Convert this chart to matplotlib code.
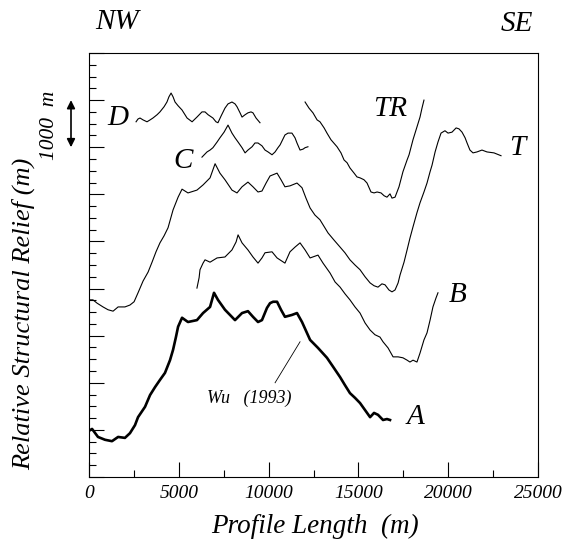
import matplotlib
matplotlib.use('Agg')
import matplotlib.pyplot as plt
from matplotlib.ticker import MultipleLocator

# profile length (m) / relative structural relief (m)
# A : Wu (1993)
A_x = [0, 170, 500, 890, 1280, 1620, 2000, 2280, 2560, 2730, 3120, 3400, 3680, 3950, 4230,
       4510, 4680, 4840, 4960, 5180, 5510, 6010, 6350, 6740, 6960, 7180, 7570, 7850, 8130,
       8520, 8850, 9130, 9410, 9630, 9910, 10080, 10250, 10470, 10690, 10910, 11300, 11580,
       11860, 12310, 12750, 13250, 13590, 13980, 14250, 14530, 14810, 15090, 15370, 15650,
       15870, 16090, 16370, 16590, 16760]
A_y = [980, 1020, 850, 790, 760, 850, 830, 930, 1100, 1270, 1490, 1740, 1910, 2060, 2210,
       2480, 2700, 2970, 3190, 3380, 3290, 3330, 3480, 3610, 3910, 3760, 3550, 3440, 3330,
       3480, 3520, 3400, 3290, 3330, 3590, 3690, 3720, 3720, 3550, 3400, 3440, 3480,
       3290, 2910, 2740, 2530, 2340, 2120, 1950, 1780, 1680, 1570, 1420, 1270,
       1360, 1320, 1210, 1230, 1210]

B_x = [6010, 6130, 6180, 6350, 6460, 6740, 7130, 7570, 7960, 8190, 8300, 8520, 8850, 9130,
       9410, 9630, 9800, 10190, 10470, 10910, 11190, 11470, 11750, 12030, 12310, 12750, 13030,
       13420, 13700, 13980, 14250, 14530, 14810, 15090, 15370, 15650, 15920, 16200, 16370,
       16650, 16930, 17210, 17480, 17710, 17870, 18040, 18260, 18430, 18650, 18820, 18990,
       19150, 19320, 19430]
B_y = [4010, 4230, 4400, 4540, 4610, 4560, 4650, 4670, 4820, 4990, 5140, 4970, 4820, 4670,
       4540, 4650, 4760, 4780, 4650, 4540, 4780, 4880, 4970, 4820, 4650, 4710, 4540,
       4330, 4140, 4030, 3890, 3760, 3610, 3480, 3270, 3120, 3020, 2970, 2870,
       2740, 2550, 2550, 2530, 2480, 2440, 2480, 2440, 2630, 2910, 3060, 3330,
       3610, 3800, 3910]

T_x = [0, 220, 450, 780, 1060, 1340, 1620, 2000, 2280, 2510, 2730, 3010, 3290, 3510, 3730,
       3950, 4180, 4400, 4680, 4960, 5180, 5510, 6010, 6350, 6740, 7020, 7290, 7570, 7960,
       8240, 8520, 8850, 9130, 9410, 9630, 9860, 10080, 10470, 10690, 10910, 11190, 11580,
       11860, 12080, 12310, 12580, 12860, 13310, 13640, 13980, 14250, 14530, 14810, 15090,
       15370, 15650, 15870, 16090, 16310, 16480, 16700, 16870, 17040, 17210, 17320, 17540,
       17710, 17870, 18040, 18260, 18430, 18650, 18820, 18990, 19100, 19270, 19430, 19600,
       19820, 19990, 20210, 20440, 20600, 20770, 20940, 21050, 21210, 21380, 21600, 21880,
       22160, 22550, 22940]
T_y = [3760, 3760, 3690, 3610, 3550, 3520, 3610, 3610, 3650, 3720, 3910, 4160, 4350, 4560,
       4780, 4970, 5120, 5290, 5670, 5940, 6110, 6030, 6090, 6200, 6350, 6650, 6450, 6310,
       6090, 6030, 6160, 6260, 6160, 6050, 6070, 6240, 6390, 6450, 6310, 6160, 6180, 6240,
       6140, 5920, 5710, 5560, 5460, 5180, 5030, 4880, 4760, 4610, 4500, 4400,
       4250, 4120, 4060, 4030, 4100, 4080, 3970, 3930, 3970, 4120, 4290, 4560,
       4820, 5070, 5310, 5610, 5820, 6050, 6240, 6480, 6620, 6900, 7110, 7300,
       7350, 7300, 7320, 7410, 7390, 7320, 7200, 7090, 6940, 6880, 6900, 6940,
       6900, 6880, 6820]

C_x = [6290, 6570, 6740, 6900, 7130, 7290, 7520, 7740, 7960, 8130, 8300, 8520, 8690, 8850,
       9080, 9240, 9410, 9630, 9800, 9970, 10190, 10360, 10520, 10640, 10910, 11080, 11300,
       11470, 11580, 11750, 11920, 12030, 12190]
C_y = [6790, 6900, 6940, 6990, 7110, 7200, 7320, 7470, 7300, 7200, 7110, 6990, 6880, 6940,
       7010, 7090, 7090, 7030, 6940, 6900, 6840, 6900, 6990, 7050, 7260, 7300, 7300,
       7200, 7090, 6940, 6960, 6990, 7010]

D_x = [2620, 2730, 2840, 3010, 3230, 3400, 3560, 3790, 3950, 4180, 4340, 4450, 4570, 4680,
       4790, 4960, 5180, 5460, 5740, 6010, 6290, 6460, 6630, 6900, 7070, 7180, 7350, 7570,
       7740, 7960, 8130, 8240, 8410, 8520, 8690, 8850, 9020, 9130, 9300, 9520]
D_y = [7540, 7600, 7620, 7580, 7540, 7580, 7620, 7690, 7750, 7860, 7960, 8070, 8150, 8070,
       7960, 7880, 7790, 7620, 7540, 7640, 7750, 7750, 7690, 7620, 7540, 7520, 7660, 7830,
       7920, 7960, 7920, 7860, 7730, 7640, 7690, 7730, 7750, 7730, 7620, 7520]

TR_x = [12030, 12250, 12470, 12700, 12860, 13090, 13250, 13470, 13810, 14030, 14200, 14370,
        14530, 14760, 14920, 15090, 15310, 15480, 15700, 15870, 16040, 16260, 16430, 16590,
        16760, 16870, 17040, 17260, 17480, 17710, 17820, 18040, 18260, 18430, 18540, 18650]
TR_y = [7960, 7830, 7730, 7580, 7540, 7410, 7300, 7160, 7010, 6880, 6730, 6670,
        6560, 6450, 6370, 6350, 6310, 6240, 6050, 6030, 6050, 6030, 5970, 5940,
        6010, 5920, 5940, 6160, 6480, 6730, 6840, 7160, 7430, 7640, 7830, 8000]

x_ticks = [0, 5000, 10000, 15000, 20000, 25000]

plt.rcParams['font.family'] = 'Liberation Serif'
plt.rcParams['font.style'] = 'italic'

fig = plt.figure(figsize=(5.68, 5.46), dpi=100)
ax = fig.add_axes([0.1567, 0.1264, 0.7905, 0.7765])

ax.plot(A_x, A_y, color='black', lw=1.9)
for xs, ys in [(B_x, B_y), (T_x, T_y), (C_x, C_y), (D_x, D_y), (TR_x, TR_y)]:
    ax.plot(xs, ys, color='black', lw=0.8)

ax.set_xlim(0, 25000)
ax.set_ylim(0, 9000)
ax.set_xticks(x_ticks)
ax.set_xticklabels([str(v) for v in x_ticks], fontsize=14)
ax.xaxis.set_minor_locator(MultipleLocator(2500))
ax.yaxis.set_major_locator(MultipleLocator(1000))
ax.yaxis.set_minor_locator(MultipleLocator(250))
ax.set_yticklabels([])
ax.tick_params(which='both', direction='in', top=False, right=False, width=0.8, color='black')
ax.tick_params(which='major', length=10.5, pad=6)
ax.tick_params(which='minor', length=5)
for s in ax.spines.values():
    s.set_linewidth(0.8)

# curve labels
lab = dict(fontsize=21, ha='center', va='center')
ax.text(1615, 7620, 'D', **lab)
ax.text(5230, 6710, 'C', **lab)
ax.text(16760, 7810, 'TR', **lab)
ax.text(23830, 6990, 'T', **lab)
ax.text(20550, 3860, 'B', **lab)
ax.text(18150, 1270, 'A', **lab)

ax.plot([10360, 11750], [2000, 2870], color='black', lw=0.6)
ax.text(6570, 1660, 'Wu   (1993)', fontsize=13, ha='left', va='center')

# outside texts
fig.text(0.206, 0.960, 'NW', fontsize=21, ha='center', va='center')
fig.text(0.910, 0.956, 'SE', fontsize=21, ha='center', va='center')
fig.text(0.088, 0.771, '1000  m', fontsize=15.5, rotation=90, ha='center', va='center')
ax.annotate('', xy=(0.125, 7000), xytext=(0.125, 8000),
            xycoords=('figure fraction', 'data'), textcoords=('figure fraction', 'data'),
            arrowprops=dict(arrowstyle='<|-|>', color='black', lw=1.2, mutation_scale=12,
                            shrinkA=0, shrinkB=0), annotation_clip=False)

fig.text(0.042, 0.425, 'Relative Structural Relief (m)', fontsize=19, rotation=90,
         ha='center', va='center')
fig.text(0.555, 0.035, 'Profile Length  (m)', fontsize=19.5, ha='center', va='center')

plt.savefig('out.png', dpi=100)
